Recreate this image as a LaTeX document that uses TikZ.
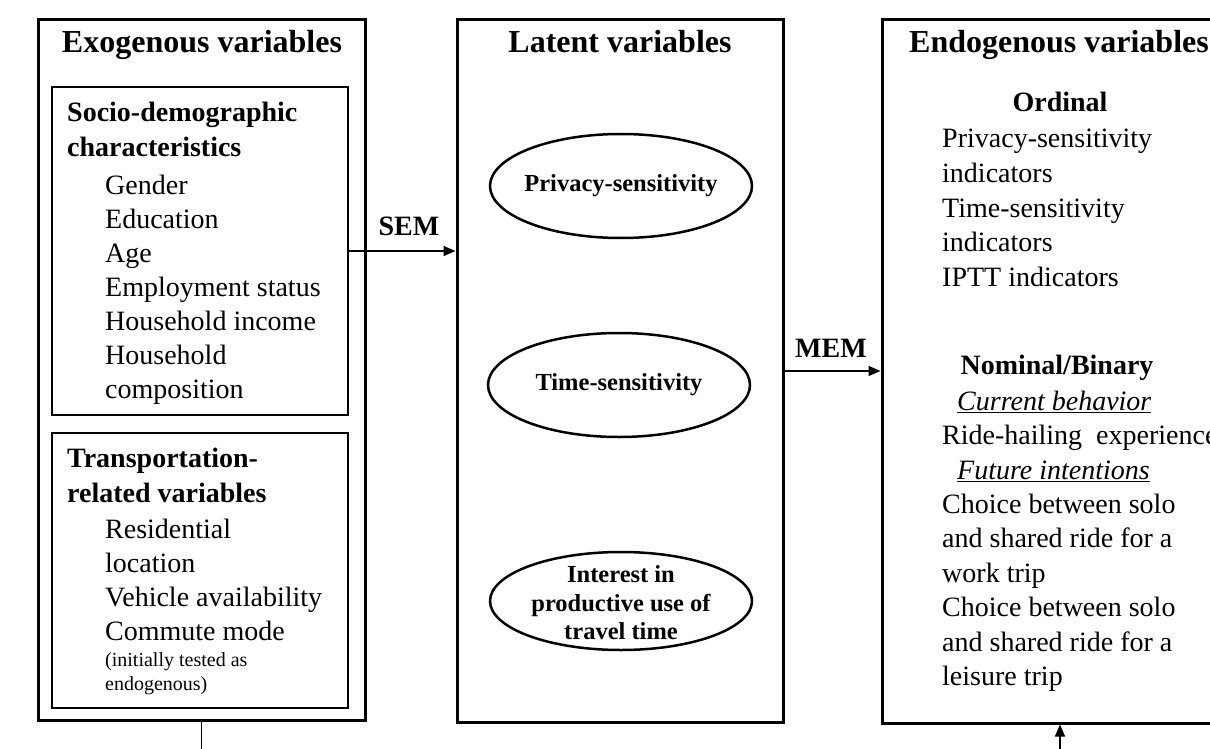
\documentclass[tikz,border=0pt]{standalone}
\usepackage{fontspec}
\setmainfont{Liberation Serif}
\usetikzlibrary{arrows.meta,shapes.geometric}

% font sizes used in the diagram
\newcommand\txttitle{\fontsize{32}{36}\selectfont}
\newcommand\txtbody{\fontsize{28}{34}\selectfont}
\newcommand\txtell{\fontsize{24.5}{28.5}\selectfont}
\newcommand\txtsmall{\fontsize{20}{23}\selectfont}

\begin{document}
\begin{tikzpicture}[x=1pt,y=-1pt,
  bigbox/.style={draw, line width=3pt, inner sep=0pt},
  subbox/.style={draw, line width=1.8pt, inner sep=0pt},
  latent/.style={draw, ellipse, line width=2.5pt, inner sep=0pt,
                 minimum width=262pt},
  titletext/.style={font=\txttitle\bfseries, inner sep=0pt, anchor=base},
  headtext/.style={font=\txtbody\bfseries, inner sep=0pt, anchor=base west},
  itemtext/.style={font=\txtbody, inner sep=0pt, anchor=base west},
  notetext/.style={font=\txtsmall, inner sep=0pt, anchor=base west},
  elltext/.style={font=\txtell\bfseries, inner sep=0pt, align=center},
  arrowlabel/.style={font=\txtbody\bfseries, inner sep=0pt, anchor=base},
  link/.style={line width=1.5pt},
  arr/.style={line width=1.5pt, -{Triangle[length=12pt,width=10pt]}}
]
\useasboundingbox (0,0) rectangle (1210,749);
\fill[white] (0,0) rectangle (1210,749);
\clip (0,0) rectangle (1210,749);

% ---------- exogenous block ----------
\node[bigbox, minimum width=327pt, minimum height=700pt] (exo) at (201.5,370) {};
\node[subbox, minimum width=296pt, minimum height=328pt] (soc) at (200,251) {};
\node[subbox, minimum width=296pt, minimum height=275pt] (trans) at (200,570.5) {};

\node[titletext] (exoT) at (202,53) {Exogenous variables};

\node[headtext] (socH1) at (67,122) {Socio-demographic};
\node[headtext] (socH2) at (67,157) {characteristics};
\foreach \t [count=\i] in {Gender, Education, Age, Employment status,
    Household income, Household, composition}
  \node[itemtext] (soc\i) at (105,160+34*\i) {\t};

\node[headtext] (trH1) at (67,467) {Transportation-};
\node[headtext] (trH2) at (67,502) {related variables};
\node[itemtext] (tr1) at (105,538) {Residential};
\node[itemtext] (tr2) at (105,572) {location};
\node[itemtext] (tr3) at (105,606) {Vehicle availability};
\node[itemtext] (tr4) at (105,640) {Commute mode};
\node[notetext] (tr5) at (105,666) {(initially tested as};
\node[notetext] (tr6) at (105,690) {endogenous)};

% ---------- latent block ----------
\node[bigbox, minimum width=326pt, minimum height=702pt] (lat) at (620,371) {};
\node[titletext] (latT) at (620,53) {Latent variables};

\node[latent, minimum height=104pt] (ps) at (621,186) {};
\node[elltext] (psT) at (ps.center) {Privacy-sensitivity};
\node[latent, minimum height=104pt] (ts) at (619,385) {};
\node[elltext] (tsT) at (ts.center) {Time-sensitivity};
\node[latent, minimum height=98pt] (ip) at (621,601) {};
\node[elltext] (ipT) at ([yshift=-2pt]ip.center) {Interest in\\productive use of\\travel time};

% ---------- endogenous block ----------
\node[bigbox, minimum width=356pt, minimum height=703pt] (endo) at (1060,371.5) {};
\node[titletext, anchor=base west] (endoT) at (909,53) {Endogenous variables};

\node[headtext, anchor=base] (ordH) at (1060,112) {Ordinal};
\foreach \t [count=\i] in {Privacy-sensitivity, indicators, Time-sensitivity,
    indicators, IPTT indicators}
  \node[itemtext] (ord\i) at (942,113.5+34.5*\i) {\t};

\node[headtext, anchor=base] (nomH) at (1057,374) {Nominal/Binary};
\node[itemtext] (cur) at (957,410) {\underline{\textit{Current behavior}}};
\node[itemtext] (nom1) at (942,444.5) {Ride-hailing\ \ experience};
\node[itemtext] (fut) at (957,479) {\underline{\textit{Future intentions}}};
\foreach \t [count=\i] in {Choice between solo, and shared ride for a, work trip,
    Choice between solo, and shared ride for a, leisure trip}
  \node[itemtext] (nomB\i) at (942,479+34.4*\i) {\t};

% ---------- connectors ----------
\node[arrowlabel] (semL) at (409,235) {SEM};
\draw[arr] (soc.east) -- (soc.east -| lat.west);
\node[arrowlabel] (memL) at (831,357) {MEM};
\draw[arr] (lat.east) -- (lat.east -| endo.west);

\coordinate (tailL) at (201.5,752);
\coordinate (tailR) at (1060,752);
\draw[link] (exo.south) -- (tailL);
\draw[arr] (tailR) -- (endo.south);
\end{tikzpicture}
\end{document}
